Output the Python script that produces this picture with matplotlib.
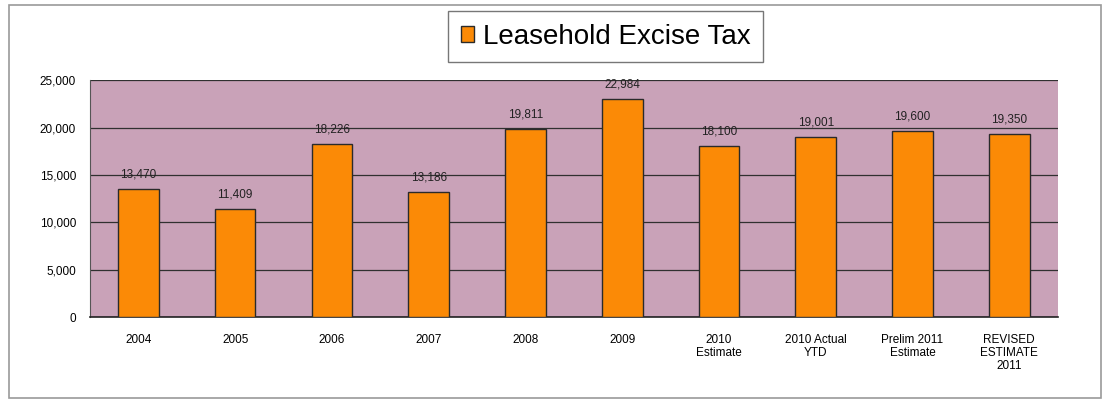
import matplotlib
matplotlib.use("Agg")
import matplotlib.pyplot as plt
from matplotlib.patches import Rectangle

categories = ["2004", "2005", "2006", "2007", "2008", "2009",
              "2010\nEstimate", "2010 Actual\nYTD", "Prelim 2011\nEstimate",
              "REVISED\nESTIMATE\n2011"]
values = [13470, 11409, 18226, 13186, 19811, 22984, 18100, 19001, 19600, 19350]
value_labels = ["13,470", "11,409", "18,226", "13,186", "19,811", "22,984",
                "18,100", "19,001", "19,600", "19,350"]
yticks = [0, 5000, 10000, 15000, 20000, 25000]
ytick_labels = ["0", "5,000", "10,000", "15,000", "20,000", "25,000"]
series_name = "Leasehold Excise Tax"

plt.rcParams['font.family'] = ['Liberation Sans', 'DejaVu Sans']

fig = plt.figure(figsize=(11.11, 4.07), dpi=100)
fig.patch.set_facecolor("white")
fig.add_artist(Rectangle((0.008, 0.022), 0.983, 0.965, transform=fig.transFigure,
                         fill=False, edgecolor="#9a9a9a", linewidth=1.2))

ax = fig.add_axes([0.081, 0.221, 0.871, 0.582])
ax.set_facecolor("#c9a2b8")
x = list(range(len(categories)))
bars = ax.bar(x, values, width=0.42, color="#fb8a06", edgecolor="#2a2a2a",
              linewidth=1.0, zorder=3, label=series_name)
for xi, v, lab in zip(x, values, value_labels):
    ax.text(xi, v + 900, lab, ha="center", va="bottom", fontsize=8.5,
            color="#222222", zorder=4)

ax.set_xlim(-0.5, len(categories) - 0.5)
ax.set_ylim(0, 25000)
ax.set_yticks(yticks)
ax.set_yticklabels(ytick_labels, fontsize=8.5)
ax.set_xticks(x)
ax.set_xticklabels(categories, fontsize=8.5, linespacing=1.1)
ax.tick_params(axis="x", length=0, pad=12)
ax.tick_params(axis="y", length=0, pad=10)
ax.yaxis.grid(True, color="#303030", linewidth=0.9, zorder=1)
for s in ["top", "right"]:
    ax.spines[s].set_visible(False)
ax.spines["left"].set_color("#555555")
ax.spines["bottom"].set_color("#222222")
ax.spines["bottom"].set_linewidth(1.2)

leg = fig.legend(handles=[bars], labels=[series_name], loc="center",
                 bbox_to_anchor=(0.545, 0.91), fontsize=20, frameon=True,
                 fancybox=False, edgecolor="#555555", handlelength=0.5,
                 handleheight=0.5, handletextpad=0.3, borderpad=0.45,
                 borderaxespad=0)
leg.get_frame().set_linewidth(1.0)

fig.savefig("out.png", dpi=100)
